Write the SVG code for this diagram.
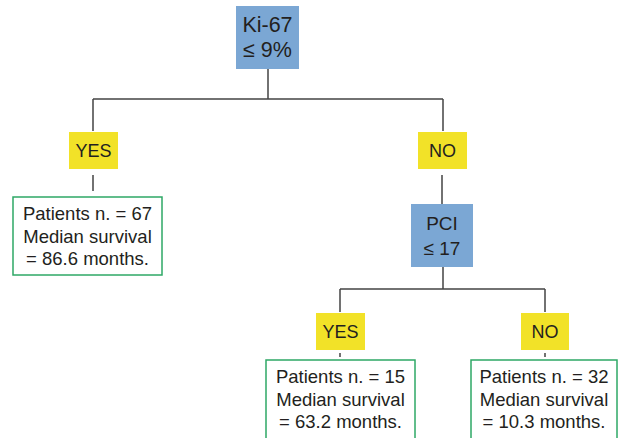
<svg xmlns="http://www.w3.org/2000/svg" width="618" height="438" viewBox="0 0 618 438">
<style>
.t{font-family:"Liberation Sans",Arial,sans-serif;fill:#231f20;text-anchor:middle}
.b{font-size:21.5px}
.y{font-size:18px}
.p{font-size:19px}
.r{font-size:18.5px}
.blue{fill:#7ba7d4}
.yel{fill:#f2e228}
.grn{fill:#fff;stroke:#2ea866;stroke-width:1.5}
.c{stroke:#444;stroke-width:1.5;fill:none}
</style>
<rect width="618" height="438" fill="#fff"/>
<g id="connectors">
<path class="c" d="M268 69V99M93 99H443M93 99V131M443 99V131"/>
<path class="c" d="M93 175V191M442 175V204"/>
<path class="c" d="M443 267V289M340 289H545M340 289V312M545 289V312"/>
<path class="c" d="M340 353V357M545 353V357"/>
</g>
<g id="ki67">
<rect class="blue" x="236" y="6" width="63" height="63"/>
<text class="t b" x="267.5" y="32">Ki-67</text>
<text class="t b" x="267.5" y="57">≤ 9%</text>
</g>
<g id="yes1">
<rect class="yel" x="69" y="132" width="49" height="37"/>
<text class="t y" x="93.5" y="157">YES</text>
</g>
<g id="no1">
<rect class="yel" x="418" y="132" width="49" height="37"/>
<text class="t y" x="442.5" y="157">NO</text>
</g>
<g id="result1">
<rect class="grn" x="13" y="197" width="149" height="78"/>
<text class="t r" x="87.5" y="220">Patients n. = 67</text>
<text class="t r" x="87.5" y="243">Median survival</text>
<text class="t r" x="87.5" y="265">= 86.6 months.</text>
</g>
<g id="pci">
<rect class="blue" x="411" y="204" width="62" height="63"/>
<text class="t p" x="442" y="230">PCI</text>
<text class="t p" x="442" y="255">≤ 17</text>
</g>
<g id="yes2">
<rect class="yel" x="316" y="313" width="49" height="37"/>
<text class="t y" x="340.5" y="338">YES</text>
</g>
<g id="no2">
<rect class="yel" x="521" y="313" width="48" height="37"/>
<text class="t y" x="545" y="338">NO</text>
</g>
<g id="result2">
<rect class="grn" x="266" y="360" width="149" height="82"/>
<text class="t r" x="340.5" y="383">Patients n. = 15</text>
<text class="t r" x="340.5" y="406">Median survival</text>
<text class="t r" x="340.5" y="428">= 63.2 months.</text>
</g>
<g id="result3">
<rect class="grn" x="471" y="360" width="146" height="82"/>
<text class="t r" x="544" y="383">Patients n. = 32</text>
<text class="t r" x="544" y="406">Median survival</text>
<text class="t r" x="544" y="428">= 10.3 months.</text>
</g>
</svg>
